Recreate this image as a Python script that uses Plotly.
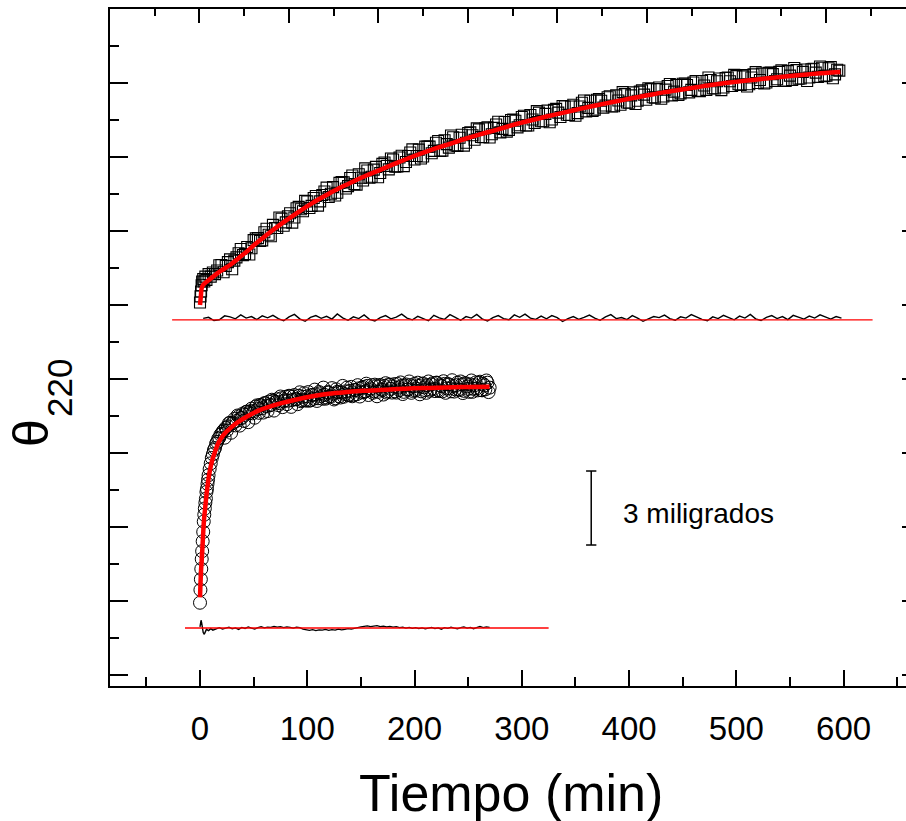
import plotly.graph_objects as go

# ---------------- data (time in min, theta in millidegrees, arbitrary offset) ----------------
sq_t = [0, 0.5, 1, 1.5, 2, 3, 4, 5, 6, 8,
        10, 12, 16, 20, 24, 28, 32, 36, 40, 44,
        48, 52, 56, 60, 64, 68, 72, 76, 80, 84,
        88, 92, 96, 100, 104, 108, 112, 116, 120, 124,
        128, 132, 136, 140, 144, 148, 152, 156, 160, 164,
        168, 172, 176, 180, 184, 188, 192, 196, 200, 204,
        208, 212, 216, 220, 224, 228, 232, 236, 240, 244,
        248, 252, 256, 260, 264, 268, 272, 276, 280, 284,
        288, 292, 296, 300, 304, 308, 312, 316, 320, 324,
        328, 332, 336, 340, 344, 348, 352, 356, 360, 364,
        368, 372, 376, 380, 384, 388, 392, 396, 400, 404,
        408, 412, 416, 420, 424, 428, 432, 436, 440, 444,
        448, 452, 456, 460, 464, 468, 472, 476, 480, 484,
        488, 492, 496, 500, 504, 508, 512, 516, 520, 524,
        528, 532, 536, 540, 544, 548, 552, 556, 560, 564,
        568, 572, 576, 580, 584, 588, 592, 596]
sq_v = [15.10, 15.35, 15.55, 15.80, 15.95, 16.05, 15.95, 16.15, 16.02, 16.25,
        16.15, 16.32, 16.40, 16.62, 16.58, 16.85, 16.80, 17.10, 17.02, 17.35,
        17.30, 17.70, 17.60, 17.95, 17.85, 18.25, 18.12, 18.50, 18.35, 18.72,
        18.55, 18.98, 18.80, 19.20, 19.02, 19.42, 19.20, 19.60, 19.38, 19.78,
        19.55, 19.98, 19.72, 20.15, 19.90, 20.30, 20.05, 20.45, 20.20, 20.60,
        20.35, 20.78, 20.50, 20.90, 20.62, 21.05, 20.80, 21.18, 20.90, 21.30,
        21.02, 21.42, 21.15, 21.58, 21.25, 21.68, 21.38, 21.80, 21.45, 21.90,
        21.58, 22.00, 21.70, 22.12, 21.80, 22.20, 21.92, 22.32, 22.00, 22.42,
        22.10, 22.52, 22.20, 22.62, 22.28, 22.70, 22.38, 22.80, 22.45, 22.88,
        22.52, 22.95, 22.62, 23.05, 22.70, 23.12, 22.78, 23.20, 22.85, 23.28,
        22.92, 23.35, 23.00, 23.42, 23.05, 23.50, 23.12, 23.55, 23.20, 23.62,
        23.28, 23.70, 23.32, 23.75, 23.40, 23.82, 23.45, 23.88, 23.50, 23.92,
        23.58, 23.98, 23.62, 24.02, 23.68, 24.08, 23.72, 24.12, 23.78, 24.18,
        23.82, 24.22, 23.88, 24.28, 23.92, 24.32, 23.95, 24.35, 24.00, 24.38,
        24.02, 24.42, 24.08, 24.45, 24.10, 24.48, 24.12, 24.52, 24.18, 24.55,
        24.22, 24.58, 24.25, 24.62, 24.30, 24.65, 24.35, 24.50]

sq2_t = [14, 18, 22, 26, 30, 34, 38, 42, 46, 50,
         54, 58, 62, 66, 70, 74, 78, 82, 86, 90,
         94, 98, 102, 106, 110, 114, 118, 122, 126, 130,
         134, 138, 142, 146, 150, 154, 158, 162, 166, 170,
         174, 178, 182, 186, 190, 194, 198, 202, 206, 210,
         214, 218, 222, 226, 230, 234, 238, 242, 246, 250,
         254, 258, 262, 266, 270, 274, 278, 282, 286, 290,
         294, 298, 302, 306, 310, 314, 318, 322, 326, 330,
         334, 338, 342, 346, 350, 354, 358, 362, 366, 370,
         374, 378, 382, 386, 390, 394, 398, 402, 406, 410,
         414, 418, 422, 426, 430, 434, 438, 442, 446, 450,
         454, 458, 462, 466, 470, 474, 478, 482, 486, 490,
         494, 498, 502, 506, 510, 514, 518, 522, 526, 530,
         534, 538, 542, 546, 550, 554, 558, 562, 566, 570,
         574, 578, 582, 586, 590, 594]
sq2_v = [16.25, 16.61, 16.33, 16.74, 16.45, 16.93, 17.27, 17.07, 17.05, 17.63,
         17.71, 17.62, 18.09, 17.79, 18.12, 18.55, 18.21, 18.60, 18.34, 18.92,
         18.88, 19.22, 18.93, 19.34, 19.03, 19.46, 19.76, 19.51, 19.44, 19.95,
         19.97, 19.82, 20.25, 19.88, 20.16, 20.54, 20.16, 20.49, 20.18, 20.72,
         20.64, 20.94, 20.61, 20.98, 20.63, 21.04, 21.31, 21.04, 20.94, 21.42,
         21.42, 21.25, 21.65, 21.26, 21.52, 21.87, 21.47, 21.78, 21.46, 21.97,
         21.88, 22.16, 21.81, 22.16, 21.79, 22.18, 22.43, 22.14, 22.03, 22.50,
         22.47, 22.29, 22.67, 22.28, 22.52, 22.86, 22.45, 22.75, 22.41, 22.91,
         22.80, 23.07, 22.71, 23.05, 22.67, 23.05, 23.29, 22.99, 22.87, 23.32,
         23.28, 23.09, 23.46, 23.06, 23.29, 23.63, 23.21, 23.50, 23.15, 23.65,
         23.53, 23.79, 23.42, 23.75, 23.36, 23.73, 23.96, 23.65, 23.52, 23.97,
         23.92, 23.72, 24.08, 23.67, 23.90, 24.22, 23.79, 24.07, 23.71, 24.20,
         24.07, 24.33, 23.95, 24.27, 23.86, 24.22, 24.44, 24.12, 23.98, 24.41,
         24.36, 24.15, 24.51, 24.08, 24.30, 24.61, 24.17, 24.45, 24.08, 24.56,
         24.42, 24.67, 24.28, 24.60, 24.19, 24.54]

fit_up_t = [0, 0.8, 1.6, 3, 4.7, 8, 12, 20, 28, 36,
            44, 51, 59, 68, 80, 92, 105, 118, 130, 143,
            155, 168, 184, 199, 215, 230, 246, 261, 277, 292,
            308, 323, 339, 354, 370, 386, 401, 417, 432, 448,
            463, 478, 494, 510, 525, 541, 555, 569, 583, 597]
fit_up_v = [15.00, 15.35, 15.69, 15.82, 15.89, 16.00, 16.14, 16.40, 16.62, 16.90,
            17.18, 17.45, 17.73, 18.04, 18.42, 18.78, 19.14, 19.46, 19.74, 20.01,
            20.25, 20.48, 20.77, 21.03, 21.28, 21.49, 21.72, 21.92, 22.11, 22.30,
            22.48, 22.64, 22.80, 22.95, 23.10, 23.24, 23.37, 23.50, 23.62, 23.73,
            23.83, 23.93, 24.02, 24.10, 24.17, 24.24, 24.30, 24.36, 24.41, 24.45]

ci_t = [0, 0.4, 0.8, 1.2, 1.6, 2, 2.5, 3, 3.5, 4,
        4.5, 5, 5.5, 6, 6.5, 7, 7.5, 8, 9, 10,
        11, 12, 13, 14, 15, 16, 17, 18, 19, 20,
        22, 24, 26, 28, 30, 32, 34, 36, 38, 40,
        42, 44, 46, 48, 50, 52, 54, 56, 58, 60,
        62, 64, 66, 68, 70, 72, 74, 76, 78, 80,
        82, 84, 86, 88, 90, 92, 94, 96, 98, 100,
        102, 104, 106, 108, 110, 112, 114, 116, 118, 120,
        122, 124, 126, 128, 130, 132, 134, 136, 138, 140,
        142, 144, 146, 148, 150, 152, 154, 156, 158, 160,
        162, 164, 166, 168, 170, 172, 174, 176, 178, 180,
        182, 184, 186, 188, 190, 192, 194, 196, 198, 200,
        202, 204, 206, 208, 210, 212, 214, 216, 218, 220,
        222, 224, 226, 228, 230, 232, 234, 236, 238, 240,
        242, 244, 246, 248, 250, 252, 254, 256, 258, 260,
        262, 264, 266, 268, 270]
ci_v = [2.93, 3.45, 3.88, 4.30, 4.70, 5.02, 5.42, 5.80, 6.22, 6.50,
        6.75, 6.98, 7.15, 7.42, 7.55, 7.75, 7.92, 8.10, 8.35, 8.58,
        8.80, 8.95, 9.12, 9.20, 9.38, 9.45, 9.58, 9.62, 9.74, 9.78,
        9.92, 10.02, 10.08, 10.22, 10.20, 10.38, 10.30, 10.48, 10.42, 10.60,
        10.55, 10.68, 10.62, 10.80, 10.70, 10.88, 10.78, 10.95, 10.82, 11.02,
        10.90, 11.08, 10.95, 11.12, 11.05, 11.18, 11.02, 11.22, 11.10, 11.28,
        11.12, 11.30, 11.15, 11.35, 11.18, 11.32, 11.10, 11.28, 11.15, 11.30,
        11.12, 11.35, 11.20, 11.38, 11.22, 11.42, 11.20, 11.36, 11.25, 11.45,
        11.28, 11.40, 11.22, 11.48, 11.30, 11.45, 11.28, 11.50, 11.35, 11.52,
        11.30, 11.55, 11.38, 11.62, 11.45, 11.68, 11.50, 11.72, 11.55, 11.75,
        11.50, 11.70, 11.48, 11.76, 11.55, 11.72, 11.45, 11.78, 11.60, 11.70,
        11.50, 11.80, 11.55, 11.72, 11.48, 11.78, 11.58, 11.75, 11.52, 11.80,
        11.60, 11.72, 11.50, 11.82, 11.55, 11.75, 11.52, 11.78, 11.60, 11.85,
        11.55, 11.75, 11.50, 11.80, 11.62, 11.78, 11.50, 11.72, 11.58, 11.85,
        11.55, 11.78, 11.52, 11.82, 11.60, 11.78, 11.48, 11.75, 11.62, 11.85,
        11.55, 11.80, 11.58, 11.85, 11.65]

ci2_t = [21, 23, 25, 27, 29, 31, 33, 35, 37, 39,
         41, 43, 45, 47, 49, 51, 53, 55, 57, 59,
         61, 63, 65, 67, 69, 71, 73, 75, 77, 79,
         81, 83, 85, 87, 89, 91, 93, 95, 97, 99,
         101, 103, 105, 107, 109, 111, 113, 115, 117, 119,
         121, 123, 125, 127, 129, 131, 133, 135, 137, 139,
         141, 143, 145, 147, 149, 151, 153, 155, 157, 159,
         161, 163, 165, 167, 169, 171, 173, 175, 177, 179,
         181, 183, 185, 187, 189, 191, 193, 195, 197, 199,
         201, 203, 205, 207, 209, 211, 213, 215, 217, 219,
         221, 223, 225, 227, 229, 231, 233, 235, 237, 239,
         241, 243, 245, 247, 249, 251, 253, 255, 257, 259,
         261, 263, 265, 267, 269]
ci2_v = [9.86, 9.62, 9.91, 10.21, 9.82, 10.22, 10.12, 10.52, 10.11, 10.42,
         10.30, 10.67, 10.25, 10.69, 10.61, 10.43, 10.93, 10.63, 10.93, 10.64,
         11.02, 10.70, 10.93, 11.16, 10.72, 11.08, 10.94, 11.29, 10.86, 11.14,
         10.98, 11.32, 10.87, 11.29, 11.18, 10.98, 11.46, 11.14, 11.42, 11.12,
         11.47, 11.14, 11.35, 11.57, 11.11, 11.47, 11.31, 11.65, 11.20, 11.47,
         11.30, 11.63, 11.17, 11.58, 11.46, 11.25, 11.72, 11.39, 11.65, 11.34,
         11.68, 11.34, 11.55, 11.75, 11.29, 11.64, 11.47, 11.81, 11.35, 11.62,
         11.44, 11.77, 11.30, 11.71, 11.58, 11.37, 11.83, 11.50, 11.76, 11.45,
         11.79, 11.45, 11.65, 11.86, 11.39, 11.73, 11.57, 11.90, 11.44, 11.70,
         11.53, 11.85, 11.38, 11.79, 11.66, 11.44, 11.90, 11.57, 11.83, 11.51,
         11.85, 11.51, 11.71, 11.91, 11.44, 11.79, 11.62, 11.95, 11.49, 11.75,
         11.58, 11.90, 11.43, 11.83, 11.70, 11.48, 11.94, 11.60, 11.86, 11.54,
         11.89, 11.54, 11.74, 11.94, 11.47]

fit_lo_t = [0, 0.5, 1, 1.6, 2.5, 3.7, 5, 6.2, 7.7, 9.3,
            11.5, 14, 16, 18.7, 23, 28, 35, 43.5, 55, 65,
            75, 90, 106, 120, 137, 152, 168, 184, 199, 215,
            230, 250, 270]
fit_lo_v = [3.15, 3.75, 4.25, 4.66, 5.35, 6.28, 6.85, 7.37, 7.88, 8.31,
            8.72, 9.05, 9.30, 9.53, 9.79, 10.00, 10.24, 10.47, 10.73, 10.88,
            11.01, 11.17, 11.31, 11.40, 11.47, 11.52, 11.55, 11.59, 11.62, 11.64,
            11.66, 11.68, 11.69]

res_up_t = [3, 8, 13, 18, 23, 28, 33, 38, 43, 48,
            53, 58, 63, 68, 73, 78, 83, 88, 93, 98,
            103, 108, 113, 118, 123, 128, 133, 138, 143, 148,
            153, 158, 163, 168, 173, 178, 183, 188, 193, 198,
            203, 208, 213, 218, 223, 228, 233, 238, 243, 248,
            253, 258, 263, 268, 273, 278, 283, 288, 293, 298,
            303, 308, 313, 318, 323, 328, 333, 338, 343, 348,
            353, 358, 363, 368, 373, 378, 383, 388, 393, 398,
            403, 408, 413, 418, 423, 428, 433, 438, 443, 448,
            453, 458, 463, 468, 473, 478, 483, 488, 493, 498,
            503, 508, 513, 518, 523, 528, 533, 538, 543, 548,
            553, 558, 563, 568, 573, 578, 583, 588, 593, 598]
res_up_v = [14.46, 14.50, 14.37, 14.40, 14.56, 14.52, 14.44, 14.60, 14.47, 14.53,
            14.41, 14.56, 14.48, 14.58, 14.45, 14.36, 14.52, 14.62, 14.44, 14.34,
            14.50, 14.57, 14.46, 14.54, 14.43, 14.64, 14.48, 14.38, 14.52, 14.45,
            14.60, 14.42, 14.35, 14.49, 14.57, 14.44, 14.51, 14.63, 14.47, 14.40,
            14.54, 14.45, 14.36, 14.58, 14.48, 14.42, 14.61, 14.50, 14.38, 14.53,
            14.47, 14.62, 14.44, 14.35, 14.49, 14.57, 14.45, 14.40, 14.60, 14.50,
            14.63, 14.47, 14.42, 14.55, 14.44, 14.57, 14.49, 14.33, 14.45, 14.53,
            14.42, 14.50, 14.59, 14.47, 14.38, 14.52, 14.61, 14.45, 14.49, 14.41,
            14.57, 14.47, 14.34, 14.44, 14.53, 14.49, 14.59, 14.45, 14.38, 14.52,
            14.47, 14.61, 14.50, 14.42, 14.36, 14.52, 14.45, 14.58, 14.49, 14.40,
            14.55, 14.47, 14.62, 14.44, 14.37, 14.50, 14.57, 14.45, 14.53, 14.41,
            14.58, 14.49, 14.43, 14.55, 14.47, 14.60, 14.50, 14.43, 14.53, 14.47]

res_lo_t = [0, 0.5, 1, 1.5, 2, 3, 4, 5, 6, 8, 10, 12,
            15, 18, 21, 24, 27, 30, 33, 36, 39, 42,
            45, 48, 51, 54, 57, 60, 63, 66, 69, 72,
            75, 78, 81, 84, 87, 90, 93, 96, 99, 102,
            105, 108, 111, 114, 117, 120, 123, 126, 129, 132,
            135, 138, 141, 144, 147, 150, 153, 156, 159, 162,
            165, 168, 171, 174, 177, 180, 183, 186, 189, 192,
            195, 198, 201, 204, 207, 210, 213, 216, 219, 222,
            225, 228, 231, 234, 237, 240, 243, 246, 249, 252,
            255, 258, 261, 264, 267, 270]
res_lo_v = [1.95, 2.10, 2.22, 2.12, 1.92, 1.72, 1.65, 1.75, 1.85, 1.80, 1.88, 1.82,
            1.88, 1.92, 1.86, 1.90, 1.94, 1.87, 1.91, 1.85, 1.93, 1.89,
            1.95, 1.90, 1.86, 1.92, 1.96, 1.91, 1.94, 1.93, 1.97, 1.94,
            1.96, 1.92, 1.95, 1.93, 1.90, 1.94, 1.92, 1.86, 1.83, 1.81,
            1.84, 1.80, 1.83, 1.82, 1.85, 1.81, 1.84, 1.82, 1.86, 1.83,
            1.85, 1.88, 1.86, 1.90, 1.93, 1.95, 1.97, 1.99, 1.96, 1.98,
            2.00, 1.96, 1.98, 1.95, 1.97, 1.94, 1.96, 1.92, 1.94, 1.90,
            1.93, 1.89, 1.92, 1.88, 1.91, 1.87, 1.90, 1.93, 1.88, 1.91,
            1.86, 1.92, 1.89, 1.94, 1.90, 1.87, 1.92, 1.95, 1.90, 1.93,
            1.88, 1.94, 1.97, 1.92, 1.95, 1.93]

base_up_t = [-26, 627]
base_up_v = [14.40, 14.40]
base_lo_t = [-14, 325]
base_lo_v = [1.905, 1.905]

scale_bar_t = 364.7
scale_bar_v = [5.27, 8.27]
scale_cap = 4.8
scale_label = "3 miligrados"

x_title = "Tiempo (min)"

# ---------------- figure ----------------
FONT = "Liberation Sans, Arial, Helvetica, sans-serif"
fig = go.Figure()

sq_marker = dict(symbol="square-open", size=11, color="black", line=dict(width=1.1, color="black"))
ci_marker = dict(symbol="circle-open", size=13, color="black", line=dict(width=1, color="black"))

fig.add_trace(go.Scatter(x=sq_t, y=sq_v, mode="markers", marker=sq_marker, hoverinfo="skip"))
fig.add_trace(go.Scatter(x=sq2_t, y=sq2_v, mode="markers", marker=sq_marker, hoverinfo="skip"))
fig.add_trace(go.Scatter(x=ci_t, y=ci_v, mode="markers", marker=ci_marker, hoverinfo="skip"))
fig.add_trace(go.Scatter(x=ci2_t, y=ci2_v, mode="markers", marker=ci_marker, hoverinfo="skip"))
fig.add_trace(go.Scatter(x=fit_up_t, y=fit_up_v, mode="lines",
                         line=dict(color="#ff0000", width=4.5, shape="spline"), hoverinfo="skip"))
fig.add_trace(go.Scatter(x=fit_lo_t, y=fit_lo_v, mode="lines",
                         line=dict(color="#ff0000", width=4.5, shape="spline"), hoverinfo="skip"))
fig.add_trace(go.Scatter(x=res_up_t, y=res_up_v, mode="lines",
                         line=dict(color="black", width=1.4), hoverinfo="skip"))
fig.add_trace(go.Scatter(x=res_lo_t, y=res_lo_v, mode="lines",
                         line=dict(color="black", width=1.4), hoverinfo="skip"))
fig.add_trace(go.Scatter(x=base_up_t, y=base_up_v, mode="lines",
                         line=dict(color="#ff0000", width=1.3), hoverinfo="skip"))
fig.add_trace(go.Scatter(x=base_lo_t, y=base_lo_v, mode="lines",
                         line=dict(color="#ff0000", width=1.3), hoverinfo="skip"))
# scale bar
sb_x = [scale_bar_t, scale_bar_t, None,
        scale_bar_t - scale_cap, scale_bar_t + scale_cap, None,
        scale_bar_t - scale_cap, scale_bar_t + scale_cap]
sb_y = [scale_bar_v[0], scale_bar_v[1], None,
        scale_bar_v[0], scale_bar_v[0], None,
        scale_bar_v[1], scale_bar_v[1]]
fig.add_trace(go.Scatter(x=sb_x, y=sb_y, mode="lines",
                         line=dict(color="black", width=1.5), hoverinfo="skip"))
# invisible trace to activate the top axis
fig.add_trace(go.Scatter(x=[0], y=[-5], xaxis="x2", yaxis="y", mode="markers",
                         marker=dict(opacity=0), hoverinfo="skip"))

axis_common = dict(showgrid=False, zeroline=False, showline=True, linewidth=2,
                   linecolor="black", ticks="inside", tickcolor="black",
                   tickwidth=2, automargin=False)

# the figure is a little wider than the window: the right frame lies just outside
# the visible area, as in the original picture
FIG_W = 920
fig.update_layout(
    width=FIG_W, height=821,
    margin=dict(l=110, r=0, t=9, b=135, pad=0, autoexpand=False),
    paper_bgcolor="white", plot_bgcolor="white",
    font=dict(family=FONT, color="black"),
    showlegend=False,
    xaxis=dict(**axis_common, range=[-83.9, 671.2], tickmode="linear", tick0=0, dtick=100,
               ticklen=16, tickfont=dict(size=33, family=FONT), ticklabelstandoff=12,
               minor=dict(tickmode="linear", tick0=0, dtick=50, ticks="inside", ticklen=9,
                          tickwidth=2, tickcolor="black", showgrid=False)),
    xaxis2=dict(**axis_common, overlaying="x", side="top", anchor="y",
                range=[-99.8, 805.3], tickmode="linear", tick0=0, dtick=100,
                ticklen=14, showticklabels=False,
                minor=dict(tickmode="linear", tick0=0, dtick=50, ticks="inside", ticklen=7,
                           tickwidth=2, tickcolor="black", showgrid=False)),
    yaxis=dict(**axis_common, range=[-0.446, 27], tickmode="linear", tick0=0, dtick=3,
               ticklen=18, showticklabels=False, mirror="ticks",
               minor=dict(tickmode="linear", tick0=0, dtick=1.5, ticks="inside", ticklen=9,
                          tickwidth=2, tickcolor="black", showgrid=False)),
    annotations=[
        dict(text=x_title, xref="paper", yref="paper", x=(511 - 110) / (FIG_W - 110),
             y=-(793 - 686) / 677, xanchor="center", yanchor="middle", showarrow=False,
             font=dict(size=52, family=FONT)),
        dict(text="θ", xref="paper", yref="paper", x=(31 - 110) / (FIG_W - 110),
             y=(686 - 433) / 677, xanchor="center", yanchor="middle", showarrow=False,
             textangle=-90, font=dict(size=50, family=FONT)),
        dict(text="220", xref="paper", yref="paper", x=(59 - 110) / (FIG_W - 110),
             y=(686 - 388) / 677, xanchor="center", yanchor="middle", showarrow=False,
             textangle=-90, font=dict(size=35, family=FONT)),
        dict(text=scale_label, xref="x", yref="y", x=392.4, y=6.53,
             xanchor="left", yanchor="middle", showarrow=False,
             font=dict(size=28, family=FONT)),
    ],
)

# remove the default 8px page margin so the figure sits at the window origin
fig.write_html("out.html",
               config={"displayModeBar": False},
               post_script="document.body.style.margin='0px';document.body.style.overflow='hidden';")
